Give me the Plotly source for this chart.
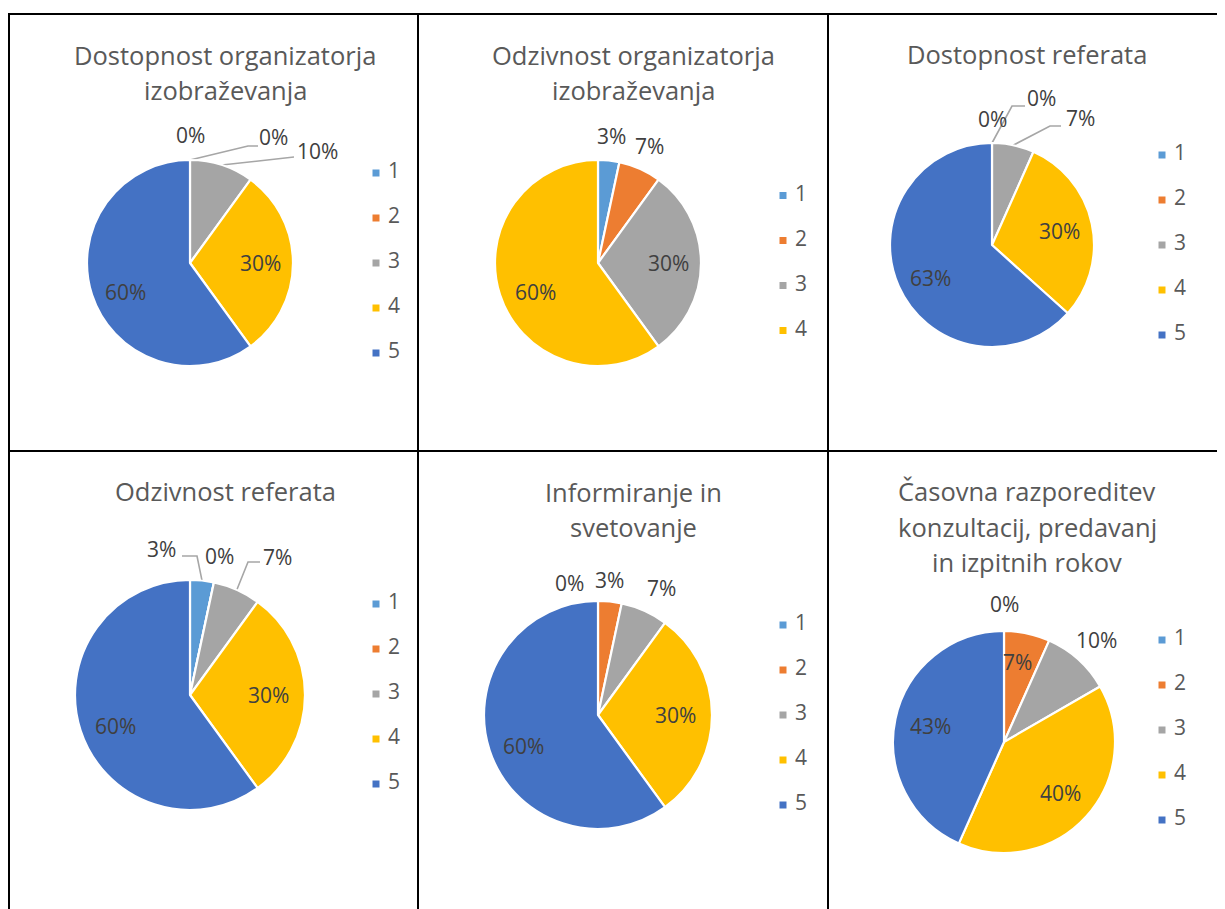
import math
import plotly.graph_objects as go

PAGE_W, PAGE_H = 1225, 909
OFF = 8  # default body margin of the page
W, H = PAGE_W - OFF, PAGE_H - OFF  # figure size

# ---------------- data ----------------
categories = ["1", "2", "3", "4", "5"]
slice_colors = ["#5B9BD5", "#ED7D31", "#A5A5A5", "#FFC000", "#4472C4"]

titles = [
    ["Dostopnost organizatorja", "izobraževanja"],
    ["Odzivnost organizatorja", "izobraževanja"],
    ["Dostopnost referata"],
    ["Odzivnost referata"],
    ["Informiranje in", "svetovanje"],
    ["Časovna razporeditev", "konzultacij, predavanj", "in izpitnih rokov"],
]

dostopnost_organizatorja = [0, 0, 3, 9, 18]
odzivnost_organizatorja = [1, 2, 9, 18]
dostopnost_referata = [0, 0, 2, 9, 19]
odzivnost_referata = [1, 0, 2, 9, 18]
informiranje_svetovanje = [0, 1, 2, 9, 18]
casovna_razporeditev = [0, 2, 3, 12, 13]

series = [dostopnost_organizatorja, odzivnost_organizatorja, dostopnost_referata,
          odzivnost_referata, informiranje_svetovanje, casovna_razporeditev]

# ---------------- layout (page pixels) ----------------
panel_layout = [
    dict(cx=190, cy=263, r=103, leg_x=376, leg_cy=263, title_x=225, title_y=[55, 90],
         modes="oooii", over={1: (273, 137), 2: (317, 151), 4: (125, 292)},
         leaders={1: [(248, 146), (258, 146)], 2: [(290, 157), (294, 157)]}),
    dict(cx=598, cy=263, r=103, leg_x=783, leg_cy=263, title_x=633, title_y=[55, 90],
         modes="ooii", over={3: (535, 292)}, leaders={}),
    dict(cx=992, cy=245, r=102, leg_x=1162, leg_cy=245, title_x=1027, title_y=[54],
         modes="oooii", over={1: (1041, 98), 2: (1080, 118), 4: (930, 278)},
         leaders={1: [(1012, 106), (1025, 106)], 2: [(1050, 126), (1061, 126)]}),
    dict(cx=190, cy=695, r=115, leg_x=376, leg_cy=694, title_x=225, title_y=[491],
         modes="oooii", over={0: (161, 549), 2: (277, 557), 4: (115, 726)},
         leaders={0: [(197, 556), (182, 556)], 2: [(248, 562), (260, 562)]}),
    dict(cx=598, cy=715, r=114, leg_x=783, leg_cy=715, title_x=633, title_y=[492, 527],
         modes="oooii", over={0: (569, 583), 1: (609, 580), 2: (661, 588), 4: (523, 746)},
         leaders={}),
    dict(cx=1004, cy=742, r=111, leg_x=1162, leg_cy=730, title_x=1027, title_y=[491, 527, 562],
         modes="oioii", over={1: (1017, 662)}, leaders={}),
]

LEG_STEP = 45
LEG_TEXT_DX = 18
K_IN, K_OUT = 0.68, 1.24
FONT = "Open Sans, Segoe UI, sans-serif"


def fx(px):
    return (px - OFF) / W


def fy(py):
    return 1 - (py - OFF) / H


fig = go.Figure()
annotations = []

for vals, title, pl in zip(series, titles, panel_layout):
    n = len(vals)
    cats = categories[:n]
    cols = slice_colors[:n]
    cx, cy, r = pl["cx"], pl["cy"], pl["r"]
    fig.add_trace(go.Pie(
        values=vals, labels=cats, sort=False, direction="clockwise", rotation=0,
        marker=dict(colors=cols, line=dict(color="white", width=2.2)),
        textinfo="none", showlegend=False, hoverinfo="label+percent",
        domain=dict(x=[fx(cx - r), fx(cx + r)], y=[fy(cy + r), fy(cy - r)]),
    ))
    total = sum(vals)
    cum = 0
    for i, v in enumerate(vals):
        mid = (cum + v / 2) / total * 2 * math.pi
        cum += v
        k = K_IN if pl["modes"][i] == "i" else K_OUT
        px, py = cx + k * r * math.sin(mid), cy - k * r * math.cos(mid)
        if i in pl["over"]:
            px, py = pl["over"][i]
        annotations.append(dict(
            x=px, y=py, xref="x", yref="y", text=f"{round(v / total * 100)}%",
            showarrow=False, xanchor="center", yanchor="middle",
            font=dict(family=FONT, size=21, color="#404040")))
        if i in pl["leaders"]:
            sx, sy = cx + r * math.sin(mid), cy - r * math.cos(mid)
            pts = [(sx, sy)] + pl["leaders"][i]
            fig.add_trace(go.Scatter(
                x=[p[0] for p in pts], y=[p[1] for p in pts], mode="lines",
                line=dict(color="#A6A6A6", width=1.6), showlegend=False, hoverinfo="skip"))
    # legend
    y0 = pl["leg_cy"] - (n - 1) / 2 * LEG_STEP
    ys = [y0 + j * LEG_STEP for j in range(n)]
    fig.add_trace(go.Scatter(
        x=[pl["leg_x"]] * n, y=ys, mode="markers",
        marker=dict(symbol="square", size=7, color=cols, line=dict(width=0)),
        showlegend=False, hoverinfo="skip"))
    fig.add_trace(go.Scatter(
        x=[pl["leg_x"] + LEG_TEXT_DX] * n, y=ys, text=cats, mode="text",
        textposition="middle center",
        textfont=dict(family=FONT, size=21, color="#595959"),
        showlegend=False, hoverinfo="skip"))
    for line, ty in zip(title, pl["title_y"]):
        annotations.append(dict(x=pl["title_x"], y=ty, xref="x", yref="y", text=line,
                                showarrow=False, xanchor="center", yanchor="middle",
                                font=dict(family=FONT, size=25.5, color="#595959")))

# panel borders
border = dict(color="black", width=2)
shapes = []
for xv in [9, 418, 828]:
    shapes.append(dict(type="line", xref="x", yref="y", x0=xv, x1=xv, y0=13, y1=PAGE_H, line=border))
for yv in [14, 451]:
    shapes.append(dict(type="line", xref="x", yref="y", x0=8, x1=PAGE_W, y0=yv, y1=yv, line=border))

fig.update_layout(
    width=W, height=H, margin=dict(l=0, r=0, t=0, b=0),
    paper_bgcolor="white", plot_bgcolor="rgba(0,0,0,0)",
    xaxis=dict(range=[OFF, PAGE_W], visible=False, fixedrange=True, domain=[0, 1]),
    yaxis=dict(range=[PAGE_H, OFF], visible=False, fixedrange=True, domain=[0, 1]),
    shapes=shapes, annotations=annotations, showlegend=False,
)

fig.write_html("out.html")
